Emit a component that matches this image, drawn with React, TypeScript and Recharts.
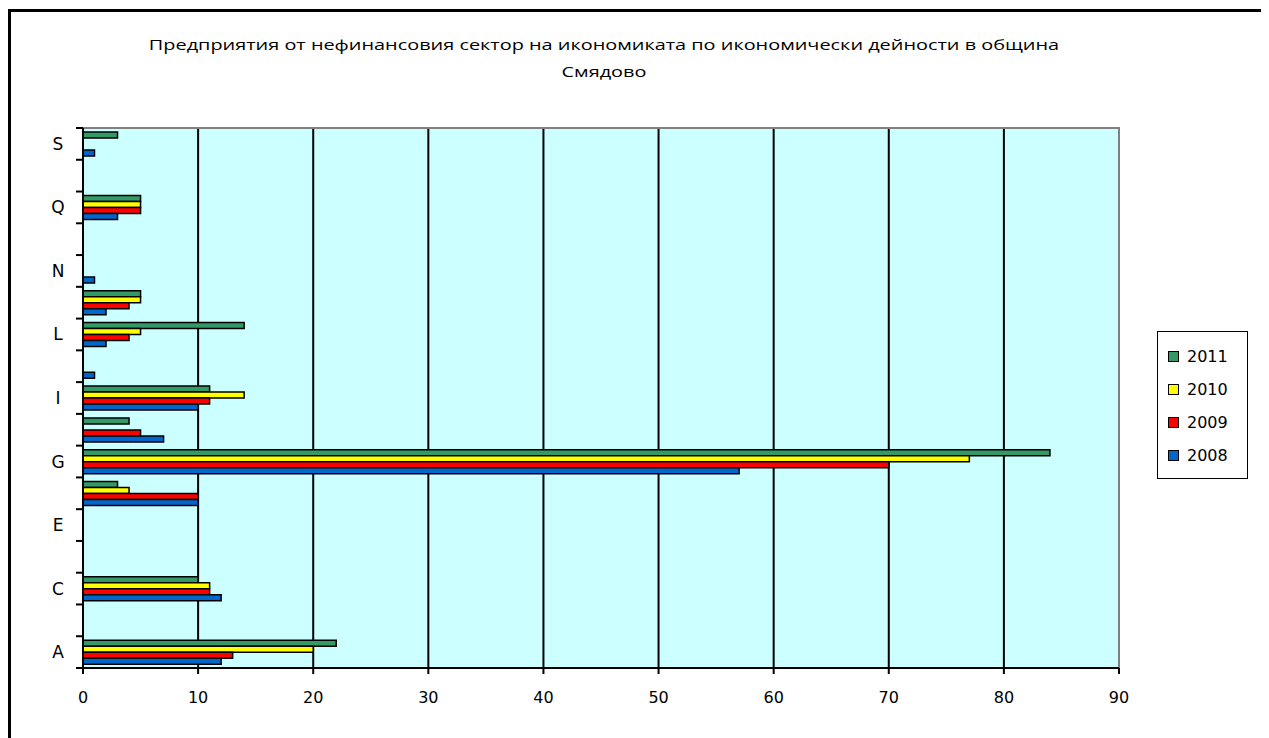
import React from 'react';
import {
  BarChart,
  Bar,
  XAxis,
  YAxis,
  CartesianGrid,
  ReferenceArea,
  Legend,
} from 'recharts';

// sectors A..S (K and O are not in the source table)
const sectors = ['A', 'B', 'C', 'D', 'E', 'F', 'G', 'H', 'I', 'J', 'L', 'M', 'N', 'P', 'Q', 'R', 'S'];
const y2008 = [12, null, 12, null, null, 10, 57, 7, 10, 1, 2, 2, 1, null, 3, null, 1];
const y2009 = [13, null, 11, null, null, 10, 70, 5, 11, null, 4, 4, null, null, 5, null, null];
const y2010 = [20, null, 11, null, null, 4, 77, null, 14, null, 5, 5, null, null, 5, null, null];
const y2011 = [22, null, 10, null, null, 3, 84, 4, 11, null, 14, 5, null, null, 5, null, 3];
const xTicks = [0, 10, 20, 30, 40, 50, 60, 70, 80, 90];

const series = [
  { key: 'y2011', name: '2011', color: '#339966' },
  { key: 'y2010', name: '2010', color: '#FFFF00' },
  { key: 'y2009', name: '2009', color: '#FF0000' },
  { key: 'y2008', name: '2008', color: '#0066CC' },
];

const data = sectors.map((s, i) => ({
  sector: s,
  y2008: y2008[i],
  y2009: y2009[i],
  y2010: y2010[i],
  y2011: y2011[i],
}));

const PLOT_H = 540;
const band = PLOT_H / sectors.length;

const SectorTick = (props: any) => {
  const { x, y, payload, index } = props;
  return (
    <g>
      <line x1={x + 1} x2={x + 8} y1={y - band / 2} y2={y - band / 2} stroke="#000" strokeWidth={2} />
      {index === 0 && (
        <line x1={x + 1} x2={x + 8} y1={y + band / 2} y2={y + band / 2} stroke="#000" strokeWidth={2} />
      )}
      {index % 2 === 0 && (
        <text x={x - 17} y={y + 6} textAnchor="middle" fontSize={17} fill="#000" fontFamily="DejaVu Sans">
          {payload.value}
        </text>
      )}
    </g>
  );
};

const LegendBox = ({ payload }: any) => {
  const items = [...(payload || [])].sort((a: any, b: any) => Number(b.value) - Number(a.value));
  return (
    <div
      style={{
        border: '1px solid #000',
        background: '#fff',
        width: 89,
        padding: '8px 0 6px 0',
        fontFamily: 'DejaVu Sans',
        fontSize: 16,
      }}
    >
      {items.map((p: any) => (
        <div key={p.value} style={{ display: 'flex', alignItems: 'center', height: 33, paddingLeft: 10 }}>
          <div style={{ width: 9, height: 9, background: p.color, border: '1px solid #000', marginRight: 8 }} />
          <span style={{ color: '#000' }}>{p.value}</span>
        </div>
      ))}
    </div>
  );
};

export default function App() {
  return (
    <div
      style={{
        marginTop: 1,
        width: 1258,
        height: 740,
        border: '3px solid #000',
        position: 'relative',
        background: '#fff',
      }}
    >
      <div
        style={{
          position: 'absolute',
          left: 0,
          width: 1186,
          top: 19,
          textAlign: 'center',
          fontFamily: 'Open Sans',
          fontSize: 14,
          lineHeight: '27px',
          color: '#000',
          transform: 'scaleX(1.42)',
          transformOrigin: '593px 0',
        }}
      >
        Предприятия от нефинансовия сектор на икономиката по икономически дейности в община
        <br />
        Смядово
      </div>
      <div style={{ position: 'absolute', left: 0, top: 0 }}>
        <BarChart
          width={1250}
          height={710}
          data={data}
          layout="vertical"
          barSize={6}
          barGap={0}
          margin={{ top: 116, right: 51, bottom: 14, left: 32 }}
        >
          <CartesianGrid fill="#CCFFFF" horizontal={false} stroke="#000" strokeWidth={2} />
          <ReferenceArea x1={0} x2={90} fill="none" stroke="#808080" strokeWidth={2} />
          <XAxis
            type="number"
            domain={[0, 90]}
            ticks={xTicks}
            interval={0}
            stroke="#000"
            strokeWidth={2}
            tickSize={6}
            tick={{ fill: '#000', fontSize: 16, fontFamily: 'DejaVu Sans', dy: 16 }}
            height={40}
          />
          <YAxis
            type="category"
            dataKey="sector"
            reversed
            interval={0}
            width={40}
            stroke="#000"
            strokeWidth={2}
            tickLine={false}
            tick={<SectorTick />}
          />
          <Legend
            layout="vertical"
            align="right"
            verticalAlign="top"
            content={<LegendBox />}
            wrapperStyle={{ left: 1146, top: 319, width: 91 }}
          />
          {series.map((s) => (
            <Bar
              key={s.key}
              dataKey={s.key}
              name={s.name}
              fill={s.color}
              stroke="#000"
              strokeWidth={1.5}
              isAnimationActive={false}
            />
          ))}
        </BarChart>
      </div>
    </div>
  );
}
